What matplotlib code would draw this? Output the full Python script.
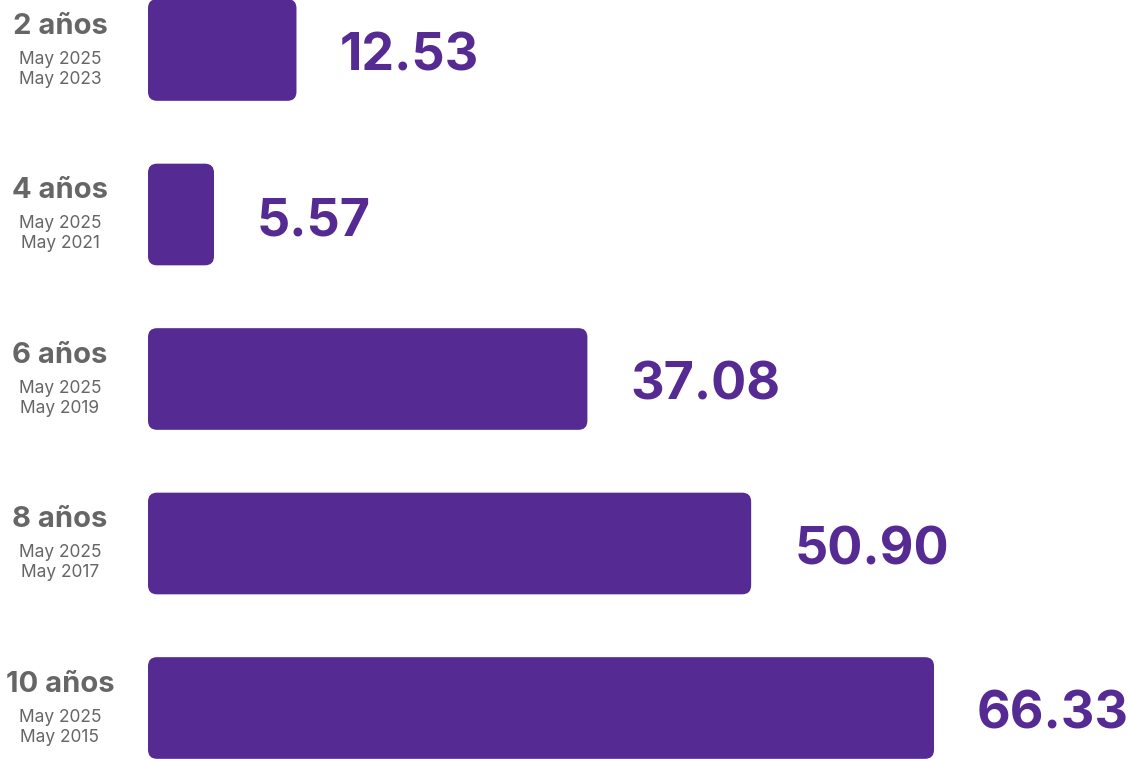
import matplotlib
matplotlib.use("Agg")
import matplotlib.pyplot as plt
from matplotlib.patches import FancyBboxPatch
from matplotlib.transforms import offset_copy, blended_transform_factory, IdentityTransform

plt.rcParams['font.family'] = ['Inter', 'DejaVu Sans']

periods = ["2 años", "4 años", "6 años", "8 años", "10 años"]
start_dates = ["May 2025"] * 5
end_dates = ["May 2023", "May 2021", "May 2019", "May 2017", "May 2015"]
values = [12.53, 5.57, 37.08, 50.90, 66.33]
value_labels = ["12.53", "5.57", "37.08", "50.90", "66.33"]

PURPLE = "#562A93"
GRAY = "#666666"

fig = plt.figure(figsize=(11.28, 7.59), dpi=100)
ax = fig.add_axes([148 / 1128, 0, 1 - 148 / 1128, 1])
ax.set_xlim(0, 980 / 11.85)
n = len(values)
ax.set_ylim((759 - 50.0) / 164.5, -50.0 / 164.5)
ax.axis("off")

ypos = list(range(n))
bars = ax.barh(ypos, values, height=0.618, color=PURPLE)
fig.canvas.draw()
renderer = fig.canvas.get_renderer()
for b in bars:
    bb = b.get_window_extent(renderer)
    b.set_visible(False)
    r = 9
    p = FancyBboxPatch((bb.x0 + r, bb.y0 + r), bb.width - 2 * r, bb.height - 2 * r,
                       boxstyle=f"round,pad={r},rounding_size={r}",
                       transform=IdentityTransform(), facecolor=PURPLE, edgecolor="none")
    fig.patches.append(p)
    p.set_figure(fig)

lbl_tr = blended_transform_factory(fig.transFigure, ax.transData)
for i in range(n):
    ax.text(60 / 1128, ypos[i], periods[i], transform=offset_copy(lbl_tr, fig=fig, y=24, units='dots'),
            ha="center", va="center", fontsize=21, fontweight="bold", color=GRAY)
    ax.text(60 / 1128, ypos[i], start_dates[i], transform=offset_copy(lbl_tr, fig=fig, y=-9, units='dots'),
            ha="center", va="center", fontsize=12.5, color=GRAY)
    ax.text(60 / 1128, ypos[i], end_dates[i], transform=offset_copy(lbl_tr, fig=fig, y=-29, units='dots'),
            ha="center", va="center", fontsize=12.5, color=GRAY)
    ax.text(values[i], ypos[i], value_labels[i], transform=offset_copy(ax.transData, fig=fig, x=43, y=-7, units='dots'),
            ha="left", va="center", fontsize=37.5, fontweight="bold", color=PURPLE)

fig.savefig("out.png", dpi=100)
